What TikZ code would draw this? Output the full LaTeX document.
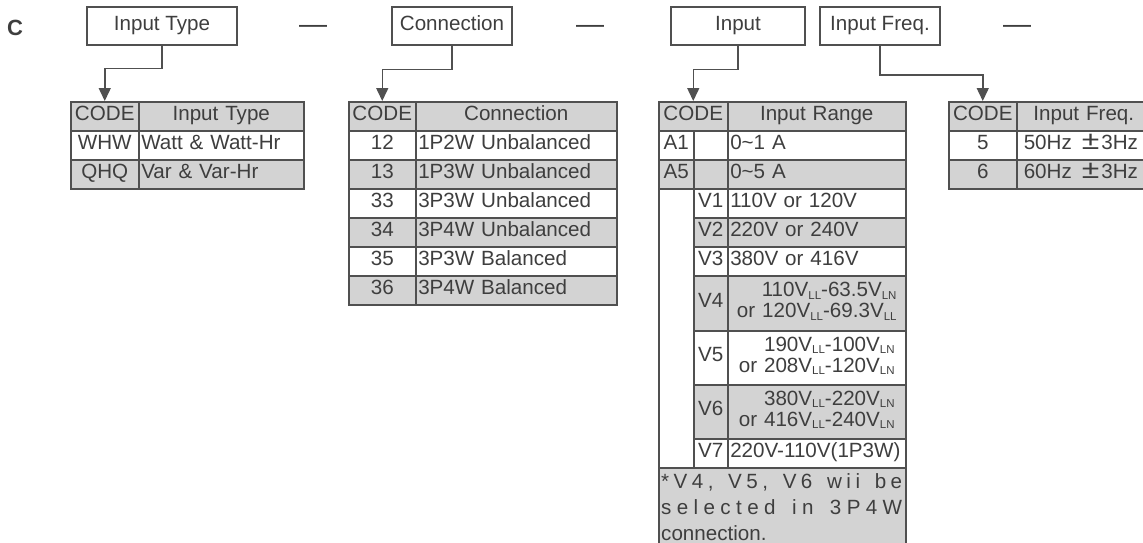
\documentclass[tikz,border=0pt]{standalone}
\usepackage{fontspec}
\setmainfont{Liberation Sans}
\usetikzlibrary{arrows.meta}

\definecolor{cellgray}{RGB}{211,211,211}
\definecolor{rulegray}{RGB}{80,80,80}
\definecolor{inkgray}{RGB}{62,62,62}

\newcommand{\cellfont}{\fontsize{20.6}{21}\selectfont}
\newcommand{\lowidx}[1]{\raisebox{-2.5pt}{\fontsize{11.5}{12}\selectfont #1}}
\newcommand{\pmwide}{\hspace{10pt}\scalebox{1.55}[1.25]{±}\hspace{2pt}}

% \tcell{name}{x}{y}{width}{height}{fill}{align}{text}: one table cell, placed by its top-left corner
\newcommand{\tcell}[8]{%
  \pgfmathsetmacro{\cellinner}{#4-5}%
  \node[cellbase, fill=#6, minimum width=#4pt, minimum height=#5pt,
        text width=\cellinner pt, align=#7] (#1) at (#2,#3) {\strut #8};}

\begin{document}
\begin{tikzpicture}[x=1pt,y=-1pt,
  cellbase/.style={draw=rulegray, line width=1.5pt, anchor=north west,
    inner xsep=2.5pt, inner ysep=0pt, font=\cellfont, text=inkgray},
  fieldbox/.style={draw=rulegray, line width=1.5pt, minimum height=38pt,
    inner sep=0pt, font=\cellfont, text=inkgray},
  conn/.style={draw=rulegray, line width=1.5pt,
    -{Triangle[length=13pt,width=12pt]}},
  dashmark/.style={font=\fontsize{28}{28}\selectfont, text=inkgray,
    inner sep=0pt, anchor=base},
  notetext/.style={font=\cellfont, text=inkgray, inner sep=0pt,
    anchor=base west}]

\useasboundingbox (0,0) rectangle (1143,543);
\clip (0,0) rectangle (1143,543);

% section letter
\node[font=\fontsize{22}{22}\selectfont\bfseries, text=inkgray] (sec) at (15,28) {C};

% model-code fields
\node[fieldbox, minimum width=150pt] (f-type) at (162,26) {\strut Input Type};
\node[dashmark] (dash1) at (313,33.5) {—};
\node[fieldbox, minimum width=120pt] (f-conn) at (452,26) {\strut Connection};
\node[dashmark] (dash2) at (590,33.5) {—};
\node[fieldbox, minimum width=134pt] (f-input) at (738,26) {\strut Input};
\node[fieldbox, minimum width=120pt] (f-freq) at (880,26) {\strut Input Freq.};
\node[dashmark] (dash3) at (1017,33.5) {—};

% ---- table: input type
\tcell{ta-hc}{70}{101}{68}{29}{cellgray}{center}{CODE}
\tcell{ta-hn}{138}{101}{165}{29}{cellgray}{center}{Input Type}
\tcell{ta-c1}{70}{130}{68}{29}{white}{center}{WHW}
\tcell{ta-n1}{138}{130}{165}{29}{white}{left}{Watt \& Watt-Hr}
\tcell{ta-c2}{70}{159}{68}{29}{cellgray}{center}{QHQ}
\tcell{ta-n2}{138}{159}{165}{29}{cellgray}{left}{Var \& Var-Hr}

% ---- table: connection
\tcell{tb-hc}{348}{101}{67}{29}{cellgray}{center}{CODE}
\tcell{tb-hn}{415}{101}{201}{29}{cellgray}{center}{Connection}
\tcell{tb-c1}{348}{130}{67}{29}{white}{center}{12}
\tcell{tb-n1}{415}{130}{201}{29}{white}{left}{1P2W Unbalanced}
\tcell{tb-c2}{348}{159}{67}{29}{cellgray}{center}{13}
\tcell{tb-n2}{415}{159}{201}{29}{cellgray}{left}{1P3W Unbalanced}
\tcell{tb-c3}{348}{188}{67}{29}{white}{center}{33}
\tcell{tb-n3}{415}{188}{201}{29}{white}{left}{3P3W Unbalanced}
\tcell{tb-c4}{348}{217}{67}{29}{cellgray}{center}{34}
\tcell{tb-n4}{415}{217}{201}{29}{cellgray}{left}{3P4W Unbalanced}
\tcell{tb-c5}{348}{246}{67}{29}{white}{center}{35}
\tcell{tb-n5}{415}{246}{201}{29}{white}{left}{3P3W Balanced}
\tcell{tb-c6}{348}{275}{67}{29}{cellgray}{center}{36}
\tcell{tb-n6}{415}{275}{201}{29}{cellgray}{left}{3P4W Balanced}

% ---- table: input range
\tcell{tc-hc}{658}{101}{69}{29}{cellgray}{center}{CODE}
\tcell{tc-hn}{727}{101}{178}{29}{cellgray}{center}{Input Range}
\tcell{tc-a1}{658}{130}{35}{29}{white}{center}{A1}
\tcell{tc-a1x}{693}{130}{34}{29}{white}{center}{}
\tcell{tc-a1n}{727}{130}{178}{29}{white}{left}{0\textasciitilde 1 A}
\tcell{tc-a5}{658}{159}{35}{29}{cellgray}{center}{A5}
\tcell{tc-a5x}{693}{159}{34}{29}{cellgray}{center}{}
\tcell{tc-a5n}{727}{159}{178}{29}{cellgray}{left}{0\textasciitilde 5 A}
\tcell{tc-vx}{658}{188}{35}{279}{white}{center}{}
\tcell{tc-v1}{693}{188}{34}{29}{white}{center}{V1}
\tcell{tc-v1n}{727}{188}{178}{29}{white}{left}{110V or 120V}
\tcell{tc-v2}{693}{217}{34}{29}{cellgray}{center}{V2}
\tcell{tc-v2n}{727}{217}{178}{29}{cellgray}{left}{220V or 240V}
\tcell{tc-v3}{693}{246}{34}{29}{white}{center}{V3}
\tcell{tc-v3n}{727}{246}{178}{29}{white}{left}{380V or 416V}
\tcell{tc-v4}{693}{275}{34}{55}{cellgray}{center}{V4}
\tcell{tc-v4n}{727}{275}{178}{55}{cellgray}{center}{\begin{tabular}{@{}r@{}}110V\lowidx{LL}-63.5V\lowidx{LN}\\or 120V\lowidx{LL}-69.3V\lowidx{LL}\end{tabular}}
\tcell{tc-v5}{693}{330}{34}{54}{white}{center}{V5}
\tcell{tc-v5n}{727}{330}{178}{54}{white}{center}{\begin{tabular}{@{}r@{}}190V\lowidx{LL}-100V\lowidx{LN}\\or 208V\lowidx{LL}-120V\lowidx{LN}\end{tabular}}
\tcell{tc-v6}{693}{384}{34}{54}{cellgray}{center}{V6}
\tcell{tc-v6n}{727}{384}{178}{54}{cellgray}{center}{\begin{tabular}{@{}r@{}}380V\lowidx{LL}-220V\lowidx{LN}\\or 416V\lowidx{LL}-240V\lowidx{LN}\end{tabular}}
\tcell{tc-v7}{693}{438}{34}{29}{white}{center}{V7}
\tcell{tc-v7n}{727}{438}{178}{29}{white}{left}{220V-110V(1P3W)}
\tcell{tc-note}{658}{467}{247}{90}{cellgray}{left}{}
\node[notetext] (note1) at (661,488) {\makebox[241pt][s]{*\hfil V\hfil 4\hfil ,\hfil\ \hfil V\hfil 5\hfil ,\hfil\ \hfil V\hfil 6\hfil\ \hfil w\hfil i\hfil i\hfil\ \hfil b\hfil e}};
\node[notetext] (note2) at (661,514.5) {\makebox[241pt][s]{s\hfil e\hfil l\hfil e\hfil c\hfil t\hfil e\hfil d\hfil\ \hfil i\hfil n\hfil\ \hfil 3\hfil P\hfil 4\hfil W}};
\node[notetext] (note3) at (661,540) {connection.};

% ---- table: input frequency
\tcell{td-hc}{948}{101}{68}{29}{cellgray}{center}{CODE}
\tcell{td-hn}{1016}{101}{134}{29}{cellgray}{center}{Input Freq.}
\tcell{td-c1}{948}{130}{68}{29}{white}{center}{5}
\tcell{td-n1}{1016}{130}{134}{29}{white}{left}{\hspace*{4.5pt}50Hz\pmwide 3Hz}
\tcell{td-c2}{948}{159}{68}{29}{cellgray}{center}{6}
\tcell{td-n2}{1016}{159}{134}{29}{cellgray}{left}{\hspace*{4.5pt}60Hz\pmwide 3Hz}

% ---- field-to-table connectors
\draw[conn] (f-type.south) -- ++(0,23) -| (ta-hc.north);
\draw[conn] (f-conn.south) -- ++(0,24) -| (tb-hc.north);
\draw[conn] (f-input.south) -- ++(0,24) -| (tc-hc.north);
\draw[conn] (f-freq.south) -- ++(0,29.5) -| (td-hc.north);

\end{tikzpicture}
\end{document}
